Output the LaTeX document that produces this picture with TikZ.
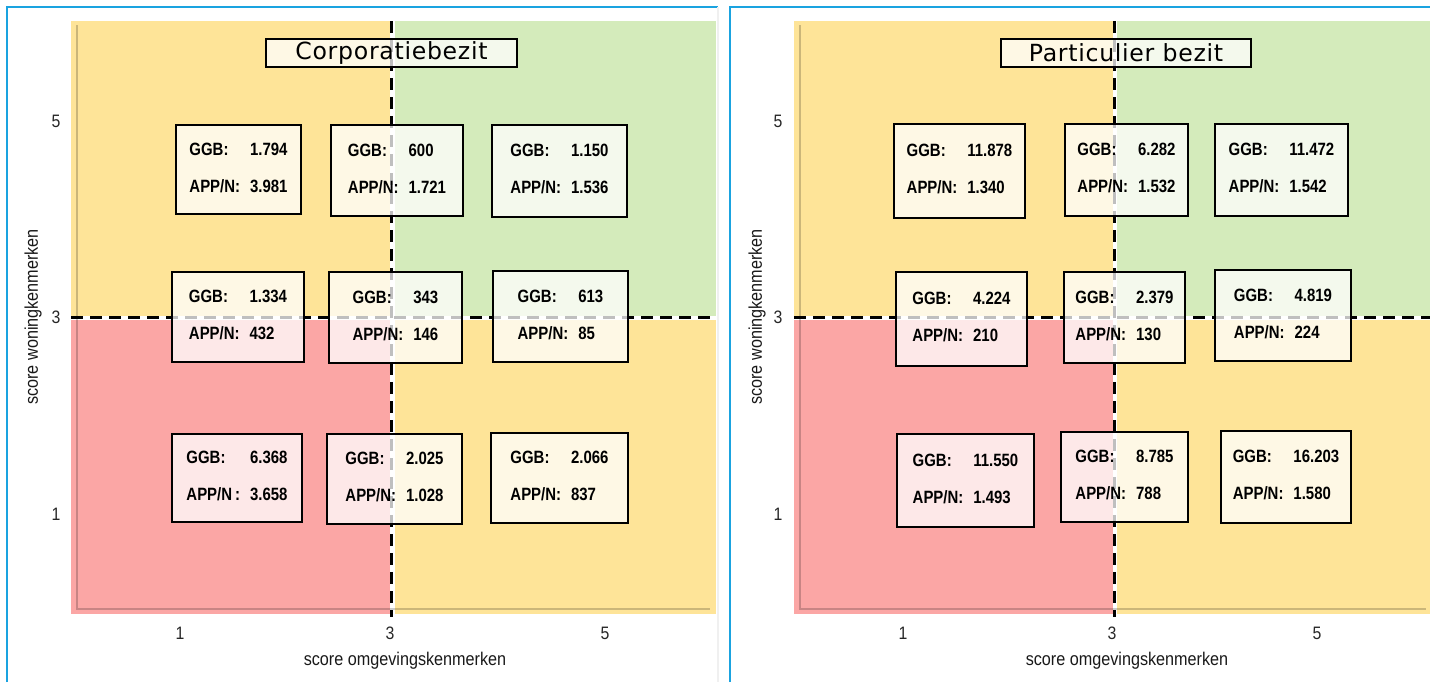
\documentclass[tikz,border=0pt]{standalone}
\usepackage{fontspec}
\setmainfont{Liberation Sans}
\newfontfamily\cellfont[FakeStretch=0.84]{Liberation Sans}
\newfontfamily\axisfont[FakeStretch=0.88]{Liberation Sans}
\newfontfamily\titlefont[LetterSpace=3]{DejaVu Sans}
\definecolor{quadY}{HTML}{FEE498}
\definecolor{quadG}{HTML}{D4EBBB}
\definecolor{quadR}{HTML}{FBA6A5}
\definecolor{frameB}{HTML}{1AA3E0}
\newcommand{\cellvals}[3][APP/N:]{\begin{tabular}{@{}l@{\hspace{5pt}}l@{}}GGB: & #2\\[8.2pt] #1 & #3\end{tabular}}

\begin{document}
\begin{tikzpicture}[x=0.5pt, y=-0.5pt,
  cell/.style={draw=black, line width=1.2pt, fill=white, fill opacity=0.75, text opacity=1,
               inner sep=0pt, font=\cellfont\bfseries\fontsize{8.9}{10.3}\selectfont},
  ttl/.style={draw=black, line width=1.2pt, fill=white, fill opacity=0.75, text opacity=1,
              inner sep=0pt, minimum height=14pt, font=\titlefont\fontsize{11.8}{13}\selectfont},
  ticklbl/.style={font=\axisfont\fontsize{9}{10}\selectfont, text=black!85},
  axlbl/.style={font=\axisfont\fontsize{9.2}{11}\selectfont, text=black!90},
  split/.style={line width=1.5pt, dash pattern=on 6pt off 3.5pt},
  axln/.style={draw=black, opacity=0.2, line width=1pt},
  frm/.style={draw=frameB, line width=0.9pt}]
  \useasboundingbox (0,0) rectangle (1430,682);
  % frames
  \draw[frm] (7,682) -- (7,7) -- (718,7);
  \draw[black!6, line width=0.8pt] (718,7) -- (718,682);
  \draw[frm] (730,682) -- (730,7) -- (1430,7);

  % ---- Corporatiebezit ----
  \fill[quadY] (71,21) rectangle (390,316);
  \fill[quadG] (394.5,21) rectangle (716,316);
  \fill[quadR] (71,319.5) rectangle (390,614);
  \fill[quadY] (394.5,319.5) rectangle (716,614);
  \draw[axln] (77,25) -- (77,609) -- (710,609);
  \draw[split] (391,21) -- (391,617);
  \draw[split] (71,317) -- (716,317);
  \node[ttl, minimum width=125.5pt] (tL) at (391.5,53) {Corporatiebezit};
  \node[cell, minimum width=62.5pt, minimum height=44.5pt] (c1) at (238.5,169.5) {\cellvals{1.794}{3.981}};
  \node[cell, minimum width=66pt, minimum height=45.5pt] (c2) at (397,170.5) {\cellvals{600}{1.721}};
  \node[cell, minimum width=67.5pt, minimum height=46pt] (c3) at (559.5,171) {\cellvals{1.150}{1.536}};
  \node[cell, minimum width=66pt, minimum height=45pt] (c4) at (238,317) {\cellvals{1.334}{432}};
  \node[cell, minimum width=66.5pt, minimum height=45.5pt] (c5) at (395.5,317.5) {\cellvals{343}{146}};
  \node[cell, minimum width=67.5pt, minimum height=45.5pt] (c6) at (560.5,316.5) {\cellvals{613}{85}};
  \node[cell, minimum width=65pt, minimum height=44pt] (c7) at (237,478) {\cellvals[APP/N\,:]{6.368}{3.658}};
  \node[cell, minimum width=67.5pt, minimum height=45pt] (c8) at (394.5,479) {\cellvals{2.025}{1.028}};
  \node[cell, minimum width=68.5pt, minimum height=45pt] (c9) at (559.5,478) {\cellvals{2.066}{837}};
  \node[ticklbl] (yL5) at (56,121) {5};
  \node[ticklbl] (yL3) at (56,317) {3};
  \node[ticklbl] (yL1) at (56,514) {1};
  \node[ticklbl] (xL1) at (180,633) {1};
  \node[ticklbl] (xL3) at (390,633) {3};
  \node[ticklbl] (xL5) at (605,633) {5};
  \node[axlbl] (xlabL) at (405,661) {score omgevingskenmerken};
  \node[axlbl, rotate=90] (ylabL) at (33,317) {score woningkenmerken};

  % ---- Particulier bezit ----
  \fill[quadY] (794,21) rectangle (1113,316);
  \fill[quadG] (1117,21) rectangle (1430,316);
  \fill[quadR] (794,319.5) rectangle (1113,614);
  \fill[quadY] (1117,319.5) rectangle (1430,614);
  \draw[axln] (800,25) -- (800,609) -- (1426,609);
  \draw[split] (1114,21) -- (1114,617);
  \draw[split] (794,317) -- (1430,317);
  \node[ttl, minimum width=125pt] (tR) at (1126,53) {Particulier bezit};
  \node[cell, minimum width=65.5pt, minimum height=47pt] (p1) at (959.5,171) {\cellvals{11.878}{1.340}};
  \node[cell, minimum width=61.5pt, minimum height=46pt] (p2) at (1126.5,170) {\cellvals{6.282}{1.532}};
  \node[cell, minimum width=66.5pt, minimum height=46pt] (p3) at (1281.5,170) {\cellvals{11.472}{1.542}};
  \node[cell, minimum width=65.5pt, minimum height=47pt] (p4) at (961.5,319) {\cellvals{4.224}{210}};
  \node[cell, minimum width=60.5pt, minimum height=45.5pt] (p5) at (1124.5,317.5) {\cellvals{2.379}{130}};
  \node[cell, minimum width=68pt, minimum height=45.5pt] (p6) at (1283,315.5) {\cellvals{4.819}{224}};
  \node[cell, minimum width=68.5pt, minimum height=46.5pt] (p7) at (965.5,480.5) {\cellvals{11.550}{1.493}};
  \node[cell, minimum width=63.5pt, minimum height=45pt] (p8) at (1124.5,477) {\cellvals{8.785}{788}};
  \node[cell, minimum width=65pt, minimum height=46pt] (p9) at (1286,477) {\cellvals{16.203}{1.580}};
  \node[ticklbl] (yR5) at (778,121) {5};
  \node[ticklbl] (yR3) at (778,317) {3};
  \node[ticklbl] (yR1) at (778,514) {1};
  \node[ticklbl] (xR1) at (903,633) {1};
  \node[ticklbl] (xR3) at (1112,633) {3};
  \node[ticklbl] (xR5) at (1317,633) {5};
  \node[axlbl] (xlabR) at (1127,661) {score omgevingskenmerken};
  \node[axlbl, rotate=90] (ylabR) at (757,317) {score woningkenmerken};
\end{tikzpicture}
\end{document}
